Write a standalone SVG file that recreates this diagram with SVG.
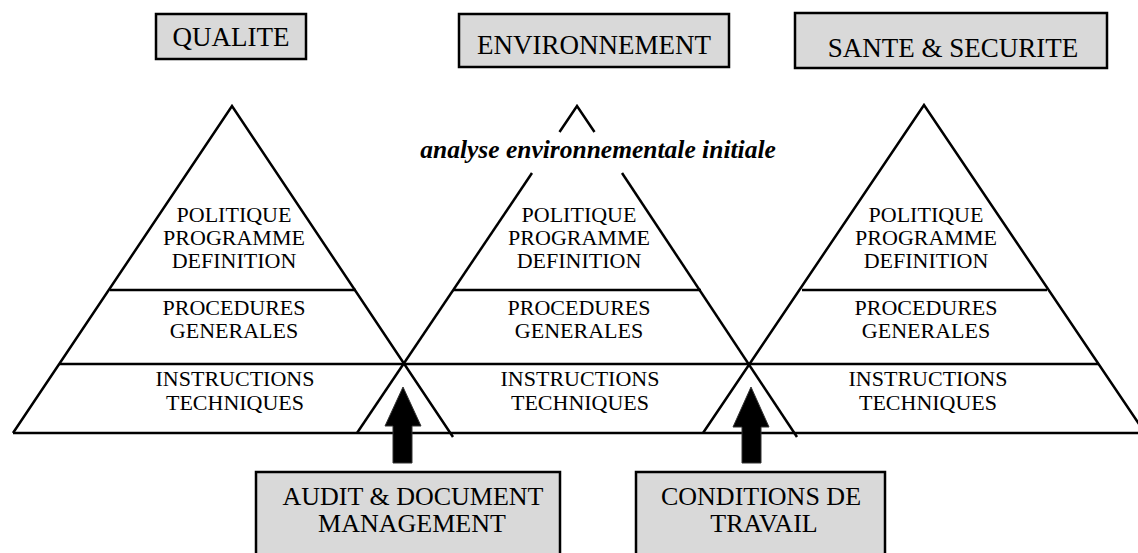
<svg xmlns="http://www.w3.org/2000/svg" width="1138" height="553" viewBox="0 0 1138 553">
<style>
.ln{stroke:#000;stroke-width:2.5;fill:none;stroke-linecap:butt}
.box{fill:#d9d9d9;stroke:#000;stroke-width:2.5}
.t{font-family:"Liberation Serif","Times New Roman",serif;fill:#000;text-anchor:middle}
.tt{font-size:27px}
.pt{font-size:22px}
.bt{font-size:26px}
.it{font-size:25.5px;font-style:italic;font-weight:bold}
.arr{fill:#000;stroke:#333;stroke-width:1}
</style>
<rect width="1138" height="553" fill="#fff"/>
<g id="pyramids">
<g id="pyramid-qualite">
<polyline class="ln" points="13,433 232,106 453,437"/>
<line class="ln" x1="110" y1="290" x2="356" y2="290"/>
<text class="t pt" x="234" y="222">POLITIQUE</text>
<text class="t pt" x="234" y="245">PROGRAMME</text>
<text class="t pt" x="234" y="268">DEFINITION</text>
<text class="t pt" x="234" y="315">PROCEDURES</text>
<text class="t pt" x="234" y="338">GENERALES</text>
<text class="t pt" x="235" y="386">INSTRUCTIONS</text>
<text class="t pt" x="235" y="410">TECHNIQUES</text>
</g>
<g id="pyramid-environnement">
<polyline class="ln" points="559.5,132 577,106 594.5,132"/>
<line class="ln" x1="532" y1="173" x2="357" y2="433"/>
<line class="ln" x1="622" y1="173" x2="797" y2="437"/>
<line class="ln" x1="453" y1="290" x2="701" y2="290"/>
<text class="t it" x="598" y="158">analyse environnementale initiale</text>
<text class="t pt" x="579" y="222">POLITIQUE</text>
<text class="t pt" x="579" y="245">PROGRAMME</text>
<text class="t pt" x="579" y="268">DEFINITION</text>
<text class="t pt" x="579" y="315">PROCEDURES</text>
<text class="t pt" x="579" y="338">GENERALES</text>
<text class="t pt" x="580" y="386">INSTRUCTIONS</text>
<text class="t pt" x="580" y="410">TECHNIQUES</text>
</g>
<g id="pyramid-sante">
<polyline class="ln" points="703,433 924,105 1145,433"/>
<line class="ln" x1="802" y1="290" x2="1047" y2="290"/>
<text class="t pt" x="926" y="222">POLITIQUE</text>
<text class="t pt" x="926" y="245">PROGRAMME</text>
<text class="t pt" x="926" y="268">DEFINITION</text>
<text class="t pt" x="926" y="315">PROCEDURES</text>
<text class="t pt" x="926" y="338">GENERALES</text>
<text class="t pt" x="928" y="386">INSTRUCTIONS</text>
<text class="t pt" x="928" y="410">TECHNIQUES</text>
</g>
<g id="shared-lines">
<line class="ln" x1="59" y1="364" x2="1099" y2="364"/>
<line class="ln" x1="13" y1="433" x2="1138" y2="433"/>
</g>
</g>
<g id="title-qualite">
<rect class="box" x="156" y="14" width="150" height="45"/>
<text class="t tt" x="231" y="46">QUALITE</text>
</g>
<g id="title-environnement">
<rect class="box" x="459" y="14" width="270" height="53"/>
<text class="t tt" x="594" y="54">ENVIRONNEMENT</text>
</g>
<g id="title-sante">
<rect class="box" x="795" y="13" width="312" height="55"/>
<text class="t tt" x="953" y="57">SANTE &amp; SECURITE</text>
</g>
<g id="box-audit">
<rect class="box" x="256" y="472" width="304" height="90"/>
<text class="t bt" x="413" y="505">AUDIT &amp; DOCUMENT</text>
<text class="t bt" x="412" y="532">MANAGEMENT</text>
</g>
<g id="box-conditions">
<rect class="box" x="636" y="472" width="249" height="90"/>
<text class="t bt" x="761" y="505">CONDITIONS DE</text>
<text class="t bt" x="764" y="532">TRAVAIL</text>
</g>
<g id="connectors">
<path class="arr" d="M403,387 L421,426 L412,426 L412,463 L393,463 L393,426 L385,426 Z"/>
<path class="arr" d="M751,387 L769,427 L761,427 L761,463 L742,463 L742,427 L733,427 Z"/>
</g>
</svg>
